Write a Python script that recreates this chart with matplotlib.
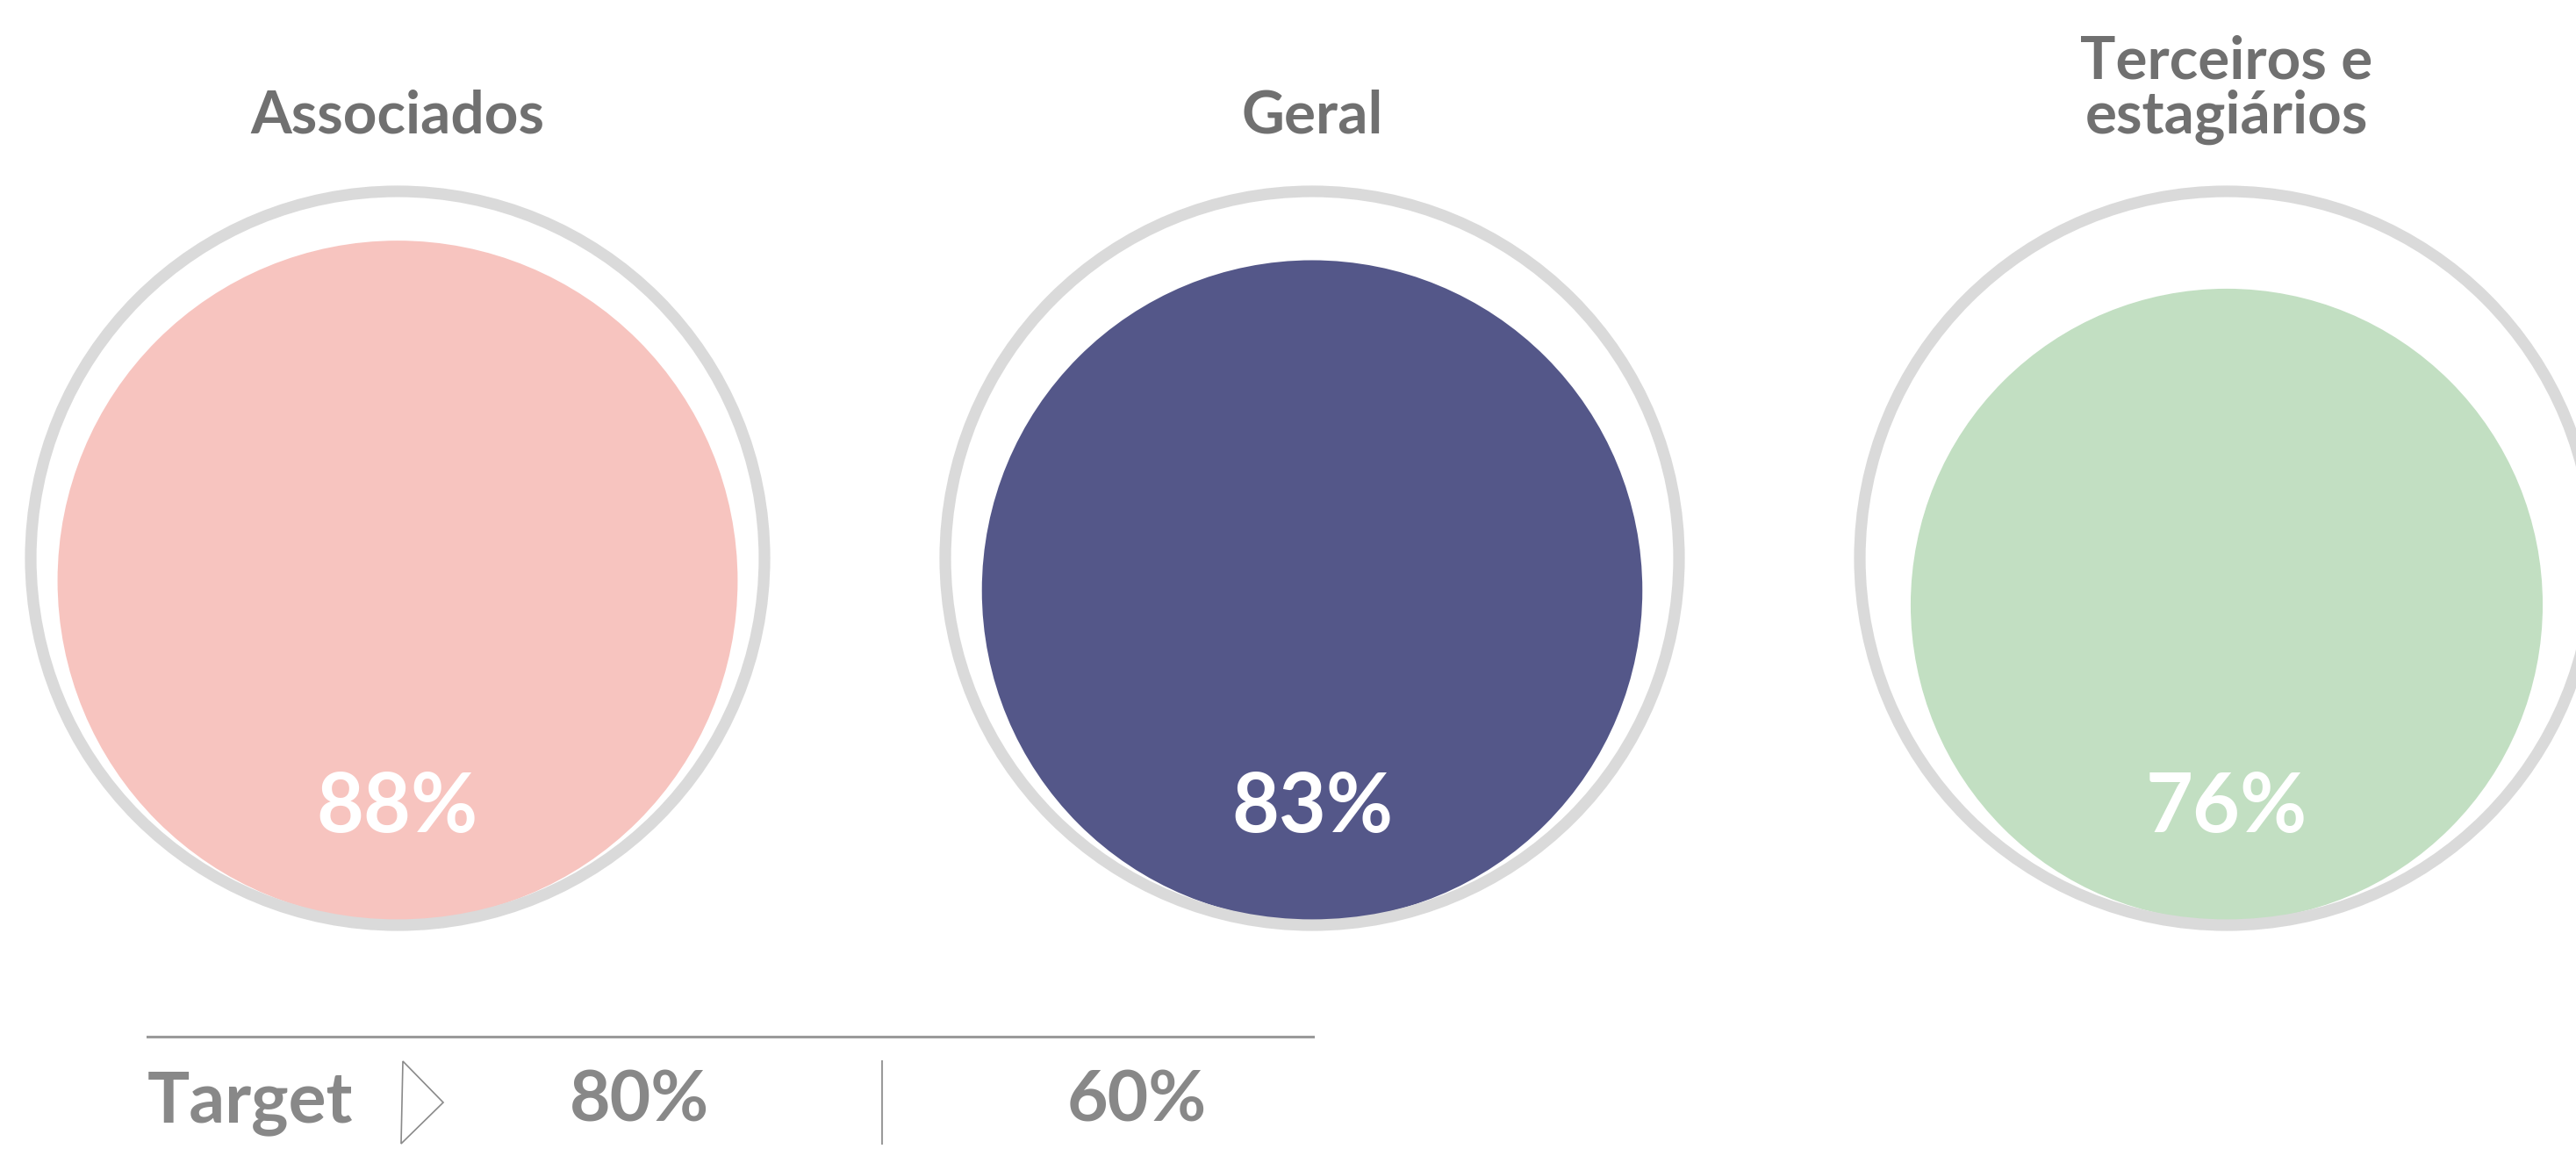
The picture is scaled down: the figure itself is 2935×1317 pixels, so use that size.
##Target bubbles chart

import numpy as np
import matplotlib.pyplot as plt
from matplotlib.patches import Circle, Polygon

#Data
categories = ['Associados', 'Geral', 'Terceiros e\nestagiários']
values = [0.88, 0.83, 0.76]
value_labels = ['88%', '83%', '76%']
colors = ['#F7C4BF', '#545789', '#C2DFC2']
target_labels = ['80%', '60%']

plt.rcParams['font.family'] = ['Lato', 'DejaVu Sans']

#Figure in pixel units
W, H = 2935, 1317
fig = plt.figure(figsize=(W/100, H/100), dpi=100)
ax = fig.add_axes([0, 0, 1, 1])
ax.set_xlim(0, W)
ax.set_ylim(H, 0)
ax.axis('off')

#Layout
x0, step = 453, 1042
cy = 636
R = 418       #ring radius (line centre)
R_in = 413    #radius of a 100% bubble

for i, (cat, v) in enumerate(zip(categories, values)):
    cx = x0 + i*step
    r = R_in*np.sqrt(v)
    #bubble sits on the bottom of the ring
    ax.add_patch(Circle((cx, cy + R_in - r), r, color=colors[i], lw=0, zorder=1))
    ax.add_patch(Circle((cx, cy), R, fill=False, ec='#DADADA', lw=9.5, zorder=2))
    ax.text(cx, 921, value_labels[i], color='white', fontsize=67, fontweight='bold',
            ha='center', va='center', zorder=3)
    ax.text(cx, 152, cat, color='#707070', fontsize=48.5, fontweight='bold',
            ha='center', va='baseline', linespacing=1.0)

#Target strip
ax.plot([168, 1496], [1181, 1181], color='#9A9A9A', lw=2.2)
ax.text(168, 1278, 'Target', color='#888888', fontsize=58, fontweight='bold',
        ha='left', va='baseline')
ax.add_patch(Polygon([[459, 1209], [505, 1256], [457, 1303]], closed=True,
                     fill=False, ec='#8A8A8A', lw=1.2))
ax.plot([1005, 1005], [1209, 1303], color='#9A9A9A', lw=1.5)
for x, lab in zip([728, 1295], target_labels):
    ax.text(x, 1278, lab, color='#888888', fontsize=58, fontweight='bold',
            ha='center', va='baseline')

plt.savefig('out.png', dpi=100)
